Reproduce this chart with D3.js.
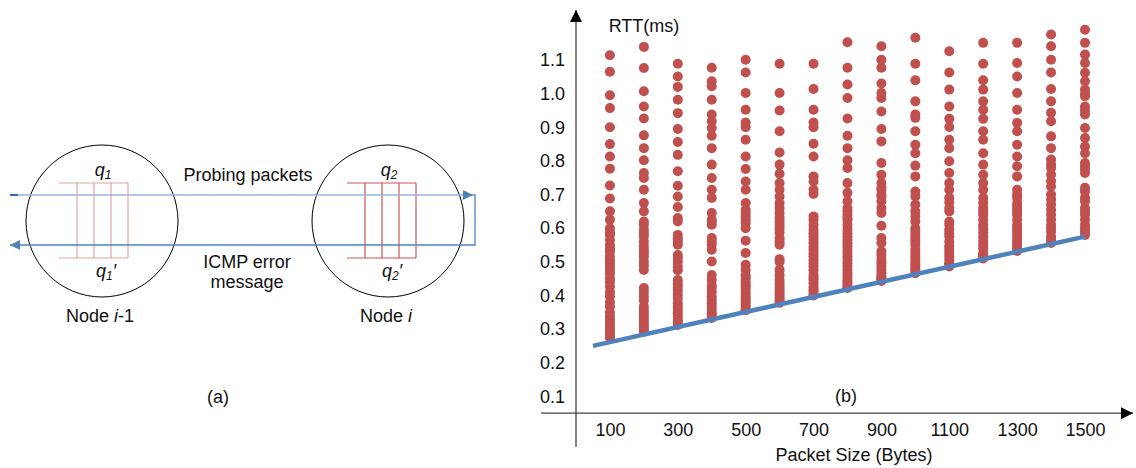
<!DOCTYPE html>
<html>
<head>
<meta charset="utf-8">
<script src="https://cdn.jsdelivr.net/npm/d3@7"></script>
<style>
  body { margin: 0; background: #fff; }
  svg text { font-family: "Liberation Sans", Arial, sans-serif; fill: #111; }
</style>
</head>
<body>
<svg id="chart"></svg>
<script>
// packet sizes (bytes) and RTT samples (ms)
var sizes = [100, 200, 300, 400, 500, 600, 700, 800, 900, 1000, 1100, 1200, 1300, 1400, 1500];

var rtt100 = [1.114, 1.065, 0.995, 0.957, 0.900, 0.850, 0.813, 0.777, 0.727, 0.688, 0.650, 0.625, 0.600, 0.588, 0.580, 0.565, 0.550, 0.539, 0.530, 0.516, 0.505, 0.496, 0.486, 0.476, 0.465, 0.451, 0.440, 0.426, 0.410, 0.397, 0.380, 0.367, 0.350, 0.337, 0.327, 0.318, 0.308, 0.298, 0.290, 0.283, 0.274];
var rtt200 = [1.139, 1.076, 1.007, 0.962, 0.926, 0.876, 0.838, 0.802, 0.764, 0.749, 0.714, 0.675, 0.650, 0.620, 0.610, 0.595, 0.585, 0.575, 0.560, 0.546, 0.535, 0.526, 0.515, 0.501, 0.490, 0.476, 0.422, 0.410, 0.397, 0.385, 0.367, 0.357, 0.347, 0.337, 0.327, 0.317, 0.308, 0.300, 0.292];
var rtt300 = [1.089, 1.051, 1.020, 0.982, 0.942, 0.895, 0.856, 0.818, 0.769, 0.726, 0.694, 0.663, 0.630, 0.620, 0.580, 0.570, 0.560, 0.551, 0.520, 0.511, 0.500, 0.486, 0.475, 0.446, 0.435, 0.426, 0.415, 0.402, 0.390, 0.377, 0.367, 0.357, 0.347, 0.337, 0.327, 0.322, 0.312];
var rtt400 = [1.077, 1.037, 1.022, 0.982, 0.938, 0.918, 0.898, 0.875, 0.838, 0.789, 0.749, 0.714, 0.690, 0.645, 0.625, 0.620, 0.610, 0.571, 0.560, 0.551, 0.536, 0.501, 0.461, 0.446, 0.430, 0.422, 0.410, 0.397, 0.387, 0.377, 0.367, 0.357, 0.347, 0.342, 0.333];
var rtt500 = [1.101, 1.063, 1.002, 0.952, 0.914, 0.900, 0.863, 0.813, 0.776, 0.739, 0.714, 0.675, 0.655, 0.645, 0.635, 0.625, 0.615, 0.600, 0.563, 0.526, 0.491, 0.476, 0.460, 0.451, 0.440, 0.432, 0.425, 0.417, 0.407, 0.397, 0.390, 0.382, 0.375, 0.367, 0.360, 0.356];
var rtt600 = [1.089, 1.002, 0.950, 0.888, 0.825, 0.789, 0.762, 0.734, 0.714, 0.694, 0.675, 0.660, 0.645, 0.630, 0.620, 0.610, 0.600, 0.587, 0.570, 0.560, 0.551, 0.508, 0.500, 0.476, 0.460, 0.446, 0.435, 0.426, 0.416, 0.407, 0.400, 0.392, 0.385, 0.378];
var rtt700 = [1.089, 1.014, 0.952, 0.914, 0.900, 0.851, 0.813, 0.754, 0.739, 0.714, 0.702, 0.635, 0.625, 0.610, 0.595, 0.585, 0.575, 0.565, 0.555, 0.545, 0.536, 0.525, 0.516, 0.505, 0.495, 0.486, 0.475, 0.461, 0.453, 0.446, 0.436, 0.426, 0.418, 0.412, 0.405, 0.400];
var rtt800 = [1.153, 1.077, 1.027, 0.987, 0.926, 0.875, 0.838, 0.802, 0.779, 0.734, 0.705, 0.680, 0.660, 0.650, 0.640, 0.630, 0.625, 0.610, 0.595, 0.585, 0.575, 0.565, 0.555, 0.546, 0.536, 0.526, 0.516, 0.506, 0.496, 0.486, 0.476, 0.466, 0.456, 0.446, 0.440, 0.432, 0.426, 0.422];
var rtt900 = [1.141, 1.101, 1.077, 1.030, 1.002, 0.987, 0.947, 0.895, 0.858, 0.794, 0.759, 0.734, 0.720, 0.714, 0.700, 0.694, 0.680, 0.660, 0.645, 0.607, 0.571, 0.556, 0.531, 0.520, 0.506, 0.496, 0.486, 0.476, 0.466, 0.456, 0.452, 0.448, 0.443];
var rtt1000 = [1.166, 1.089, 1.040, 0.977, 0.938, 0.928, 0.888, 0.848, 0.823, 0.786, 0.754, 0.709, 0.694, 0.670, 0.650, 0.635, 0.620, 0.600, 0.590, 0.580, 0.570, 0.560, 0.550, 0.536, 0.526, 0.516, 0.506, 0.496, 0.490, 0.481, 0.474, 0.466];
var rtt1100 = [1.126, 1.063, 1.012, 0.962, 0.925, 0.901, 0.863, 0.838, 0.799, 0.764, 0.734, 0.714, 0.690, 0.677, 0.660, 0.650, 0.620, 0.610, 0.595, 0.585, 0.575, 0.560, 0.546, 0.536, 0.526, 0.516, 0.506, 0.496, 0.492, 0.486];
var rtt1200 = [1.151, 1.089, 1.040, 1.012, 0.977, 0.952, 0.925, 0.888, 0.863, 0.823, 0.789, 0.759, 0.734, 0.714, 0.690, 0.675, 0.660, 0.650, 0.640, 0.625, 0.610, 0.600, 0.588, 0.575, 0.563, 0.551, 0.540, 0.526, 0.520, 0.516, 0.510];
var rtt1300 = [1.151, 1.091, 1.051, 1.002, 0.952, 0.913, 0.888, 0.848, 0.813, 0.784, 0.754, 0.714, 0.700, 0.690, 0.675, 0.665, 0.655, 0.645, 0.640, 0.625, 0.610, 0.600, 0.595, 0.585, 0.575, 0.565, 0.556, 0.548, 0.540, 0.532];
var rtt1400 = [1.176, 1.141, 1.101, 1.063, 1.014, 0.977, 0.943, 0.918, 0.873, 0.838, 0.804, 0.790, 0.779, 0.759, 0.740, 0.724, 0.700, 0.685, 0.670, 0.655, 0.640, 0.625, 0.610, 0.600, 0.590, 0.575, 0.565, 0.556];
var rtt1500 = [1.190, 1.151, 1.116, 1.091, 1.062, 1.037, 1.012, 1.000, 0.992, 0.962, 0.950, 0.938, 0.898, 0.868, 0.843, 0.823, 0.794, 0.785, 0.775, 0.764, 0.720, 0.709, 0.690, 0.680, 0.660, 0.650, 0.640, 0.625, 0.610, 0.600, 0.590, 0.580];

var rttColumns = [rtt100, rtt200, rtt300, rtt400, rtt500, rtt600, rtt700, rtt800,
                  rtt900, rtt1000, rtt1100, rtt1200, rtt1300, rtt1400, rtt1500];

// lower-bound fit line
var fitX = [50, 1500];
var fitY = [0.25, 0.575];

var xTicks = [100, 300, 500, 700, 900, 1100, 1300, 1500];
var yTicks = [0.1, 0.2, 0.3, 0.4, 0.5, 0.6, 0.7, 0.8, 0.9, 1.0, 1.1];

var w = 1136, h = 468;
var red = "#C0504D", blue = "#4F81BD";
var fs = 18;

var svg = d3.select("#chart").attr("width", w).attr("height", h);

var defs = svg.append("defs");
defs.append("marker").attr("id", "tri").attr("viewBox", "0 0 10 10")
  .attr("refX", 10).attr("refY", 5).attr("markerWidth", 11).attr("markerHeight", 10)
  .attr("markerUnits", "userSpaceOnUse").attr("orient", "auto")
  .append("path").attr("d", "M0,0L10,5L0,10z").attr("fill", blue);
defs.append("marker").attr("id", "blk").attr("viewBox", "0 0 10 10")
  .attr("refX", 10).attr("refY", 5).attr("markerWidth", 14).attr("markerHeight", 12)
  .attr("markerUnits", "userSpaceOnUse").attr("orient", "auto")
  .append("path").attr("d", "M0,0L10,5L0,10z").attr("fill", "#000");

// ---------- panel (a): diagram ----------
var nodeX = [102, 388];
var nodeLabels = ["i-1", "i"];
var a = svg.append("g");

a.selectAll("circle.node").data(nodeX).enter().append("circle")
  .attr("cx", function (d) { return d; }).attr("cy", 221).attr("r", 76)
  .attr("fill", "none").attr("stroke", "#000").attr("stroke-width", 1);

// queues
[{x0: 59, c: "#E3A3A2"}, {x0: 347, c: "#CC5552"}].forEach(function (q) {
  var g = a.append("g").attr("stroke", q.c).attr("stroke-width", 1.2);
  g.append("line").attr("x1", q.x0).attr("x2", q.x0 + 69).attr("y1", 183).attr("y2", 183);
  g.append("line").attr("x1", q.x0).attr("x2", q.x0 + 69).attr("y1", 258).attr("y2", 258);
  [18, 35, 52, 69].forEach(function (dx) {
    g.append("line").attr("x1", q.x0 + dx).attr("x2", q.x0 + dx).attr("y1", 183).attr("y2", 258);
  });
});

// probing path and ICMP return
a.append("line").attr("x1", 10).attr("x2", 18).attr("y1", 195).attr("y2", 195)
  .attr("stroke", "#2E6DB4").attr("stroke-width", 2);
a.append("line").attr("x1", 18).attr("x2", 473).attr("y1", 195).attr("y2", 195)
  .attr("stroke", "#94B5DC").attr("stroke-width", 1.5).attr("marker-end", "url(#tri)");
a.append("polyline").attr("points", "473,195 475,195 475,245 10,245")
  .attr("fill", "none").attr("stroke", blue).attr("stroke-width", 1.3)
  .attr("marker-end", "url(#tri)");

function qLabel(x, y, sub, prime) {
  var t = a.append("text").attr("x", x).attr("y", y).attr("text-anchor", "middle")
    .attr("font-size", 18).attr("font-style", "italic");
  t.append("tspan").text("q");
  t.append("tspan").attr("font-size", 12).attr("dy", 3).text(sub);
  if (prime) t.append("tspan").attr("dy", -3).text("\u2032");
}
qLabel(103, 176, "1", false);
qLabel(106, 277, "1", true);
qLabel(389, 176, "2", false);
qLabel(392, 277, "2", true);

a.append("text").attr("x", 248).attr("y", 181).attr("text-anchor", "middle")
  .attr("font-size", fs).text("Probing packets");
a.append("text").attr("x", 247).attr("y", 268).attr("text-anchor", "middle")
  .attr("font-size", fs).text("ICMP error");
a.append("text").attr("x", 247).attr("y", 288).attr("text-anchor", "middle")
  .attr("font-size", fs).text("message");

nodeX.forEach(function (x, i) {
  var t = a.append("text").attr("x", x - 2).attr("y", 322).attr("text-anchor", "middle").attr("font-size", fs);
  t.append("tspan").text("Node ");
  var parts = nodeLabels[i].split("-");
  t.append("tspan").attr("font-style", "italic").text(parts[0]);
  if (parts.length > 1) t.append("tspan").text("-" + parts[1]);
});
a.append("text").attr("x", 218).attr("y", 403).attr("text-anchor", "middle")
  .attr("font-size", fs).text("(a)");

// ---------- panel (b): scatter ----------
var xScale = d3.scaleLinear().domain([0, 1500]).range([576, 1085]);
var yScale = d3.scaleLinear().domain([0, 1.1]).range([430, 60]);

var axisY = yScale(0.05);

// axis lines with arrowheads
svg.append("line").attr("x1", xScale(0)).attr("x2", xScale(0))
  .attr("y1", 447).attr("y2", 10).attr("stroke", "#444").attr("stroke-width", 1.3)
  .attr("marker-end", "url(#blk)");
svg.append("line").attr("x1", 541).attr("x2", 1133)
  .attr("y1", axisY).attr("y2", axisY).attr("stroke", "#444").attr("stroke-width", 1.3)
  .attr("marker-end", "url(#blk)");

var yAxis = d3.axisLeft(yScale).tickValues(yTicks).tickSize(0).tickPadding(0)
  .tickFormat(d3.format(".1f"));
svg.append("g").attr("transform", "translate(565,0)").call(yAxis)
  .call(function (g) { g.select(".domain").remove(); })
  .selectAll("text").attr("font-size", fs).attr("font-family", "Liberation Sans, Arial, sans-serif")
  .attr("fill", "#111");

var xAxis = d3.axisBottom(xScale).tickValues(xTicks).tickSize(0).tickPadding(0)
  .tickFormat(d3.format("d"));
svg.append("g").attr("transform", "translate(0," + (axisY + 10) + ")").call(xAxis)
  .call(function (g) { g.select(".domain").remove(); })
  .selectAll("text").attr("font-size", fs).attr("font-family", "Liberation Sans, Arial, sans-serif")
  .attr("fill", "#111");

// points
var points = [];
sizes.forEach(function (s, i) {
  rttColumns[i].forEach(function (v) { points.push({size: s, rtt: v}); });
});

svg.append("g").selectAll("circle").data(points).enter().append("circle")
  .attr("cx", function (d) { return xScale(d.size); })
  .attr("cy", function (d) { return yScale(d.rtt); })
  .attr("r", 5)
  .attr("fill", red);

// fit line
var fit = fitX.map(function (x, i) { return [x, fitY[i]]; });
svg.append("path").datum(fit)
  .attr("d", d3.line().x(function (d) { return xScale(d[0]); }).y(function (d) { return yScale(d[1]); }))
  .attr("stroke", blue).attr("stroke-width", 4.5).attr("fill", "none");

svg.append("text").attr("x", 644).attr("y", 32).attr("text-anchor", "middle")
  .attr("font-size", fs).text("RTT(ms)");
svg.append("text").attr("x", 846).attr("y", 402).attr("text-anchor", "middle")
  .attr("font-size", fs).text("(b)");
svg.append("text").attr("x", 854).attr("y", 461).attr("text-anchor", "middle")
  .attr("font-size", fs).text("Packet Size (Bytes)");
</script>
</body>
</html>
